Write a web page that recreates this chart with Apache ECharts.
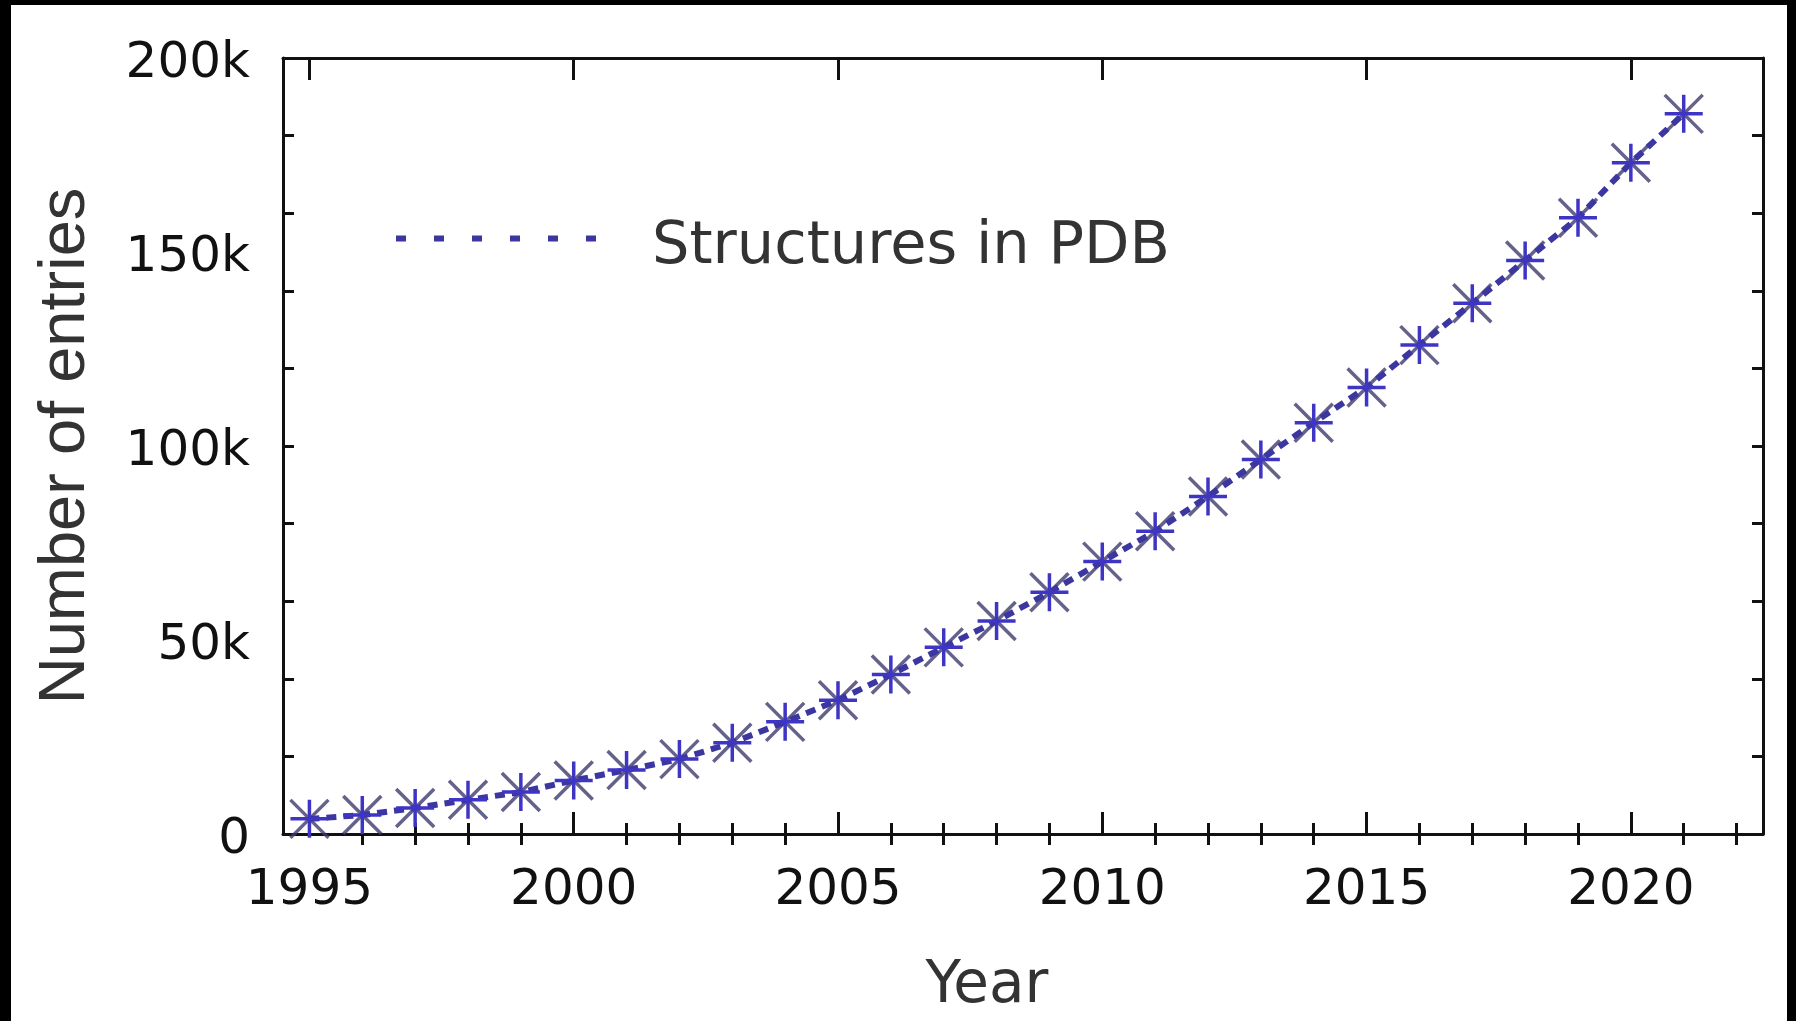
<!DOCTYPE html>
<html>
<head>
<meta charset="utf-8">
<script src="https://cdn.jsdelivr.net/npm/echarts@6/dist/echarts.min.js"></script>
<style>
  html, body { margin: 0; padding: 0; background: #ffffff; }
  #wrap { position: relative; width: 1796px; height: 1021px; overflow: hidden; background: #fff; }
  #chart { position: absolute; left: 0; top: 0; width: 1796px; height: 1021px; }
  .bar { position: absolute; background: #000; }
</style>
</head>
<body>
<div id="wrap">
  <div id="chart"></div>
  <div class="bar" style="left:0;top:0;width:1796px;height:5px"></div>
  <div class="bar" style="left:0;top:0;width:11px;height:1021px"></div>
  <div class="bar" style="right:0;top:0;width:9px;height:1021px"></div>
</div>
<script>
// ---- data ----
const years = [1995, 1996, 1997, 1998, 1999, 2000, 2001, 2002, 2003, 2004, 2005, 2006, 2007,
               2008, 2009, 2010, 2011, 2012, 2013, 2014, 2015, 2016, 2017, 2018, 2019, 2020, 2021];
const entries = [3900, 4900, 6700, 8800, 10800, 13800, 16500, 19300, 23500, 28900, 34500, 41100, 48100,
                 54900, 62300, 70200, 78000, 87000, 96500, 106000, 115100, 126000, 136800, 147800, 158800, 173000, 185600];
const seriesName = 'Structures in PDB';
const xMajorTicks = [1995, 2000, 2005, 2010, 2015, 2020];
const xMinorTicks = [1996, 1997, 1998, 1999, 2001, 2002, 2003, 2004, 2006, 2007, 2008, 2009,
                     2011, 2012, 2013, 2014, 2016, 2017, 2018, 2019, 2021, 2022];
const yLabelValues = [0, 50000, 100000, 150000, 200000];
const yTickValues = [20000, 40000, 60000, 80000, 100000, 120000, 140000, 160000, 180000];
const xTitle = 'Year';
const yTitle = 'Number of entries';

const points = years.map((y, i) => [y, entries[i]]);

const FONT = '"DejaVu Sans", sans-serif';
const FONT_Y = '"Liberation Sans", Arial, sans-serif';
const AXIS_COLOR = '#111';
const LINE_COLOR = '#3b36a0';

function xAxisBase(pos) {
  return {
    type: 'value', position: pos, min: 1994.5, max: 2022.5,
    axisLine: { show: false }, splitLine: { show: false },
    axisLabel: { show: false }, axisTick: { show: false }
  };
}
const xAxes = [
  Object.assign(xAxisBase('bottom'), {
    axisLine: { show: true, onZero: false, lineStyle: { color: AXIS_COLOR, width: 3 } },
    axisTick: { show: true, inside: true, length: 22, lineStyle: { color: AXIS_COLOR, width: 3 }, customValues: xMajorTicks },
    axisLabel: { show: true, customValues: xMajorTicks, margin: 32, color: '#111', fontSize: 50, fontFamily: FONT,
                 formatter: v => String(v) },
    name: xTitle, nameLocation: 'middle', nameGap: 124,
    nameTextStyle: { fontSize: 58, fontFamily: FONT, color: '#333', padding: [0, 72, 0, 0] }
  }),
  Object.assign(xAxisBase('bottom'), {
    axisTick: { show: true, inside: true, length: 11, lineStyle: { color: AXIS_COLOR, width: 3 }, customValues: xMinorTicks }
  }),
  Object.assign(xAxisBase('top'), {
    axisLine: { show: true, onZero: false, lineStyle: { color: AXIS_COLOR, width: 3 } },
    axisTick: { show: true, inside: true, length: 22, lineStyle: { color: AXIS_COLOR, width: 3 }, customValues: xMajorTicks }
  }),
  Object.assign(xAxisBase('top'), {
    axisTick: { show: true, inside: true, length: 11, lineStyle: { color: AXIS_COLOR, width: 3 }, customValues: xMinorTicks }
  })
];

const yAxes = [
  {
    type: 'value', position: 'left', min: 0, max: 200000,
    axisLine: { show: true, onZero: false, lineStyle: { color: AXIS_COLOR, width: 3 } },
    splitLine: { show: false },
    axisTick: { show: true, inside: true, length: 11, lineStyle: { color: AXIS_COLOR, width: 3 }, customValues: yTickValues },
    axisLabel: {
      show: true, customValues: yLabelValues, margin: 33, color: '#111', fontSize: 50, fontFamily: FONT,
      formatter: v => '{a|' + (v === 0 ? '0' : (v / 1000) + 'k') + '}',
      rich: { a: { fontSize: 50, fontFamily: FONT, color: '#111', padding: [12, 0, 0, 0] } }
    },
    name: yTitle, nameLocation: 'middle', nameRotate: 90, nameGap: 184,
    nameTextStyle: { fontSize: 65, fontFamily: FONT_Y, color: '#333' }
  },
  {
    type: 'value', position: 'right', min: 0, max: 200000,
    axisLine: { show: true, onZero: false, lineStyle: { color: AXIS_COLOR, width: 3 } },
    splitLine: { show: false },
    axisTick: { show: true, inside: true, length: 11, lineStyle: { color: AXIS_COLOR, width: 3 }, customValues: yTickValues },
    axisLabel: { show: false }
  }
];

const chart = echarts.init(document.getElementById('chart'), null, { renderer: 'canvas' });
chart.setOption({
  animation: false,
  backgroundColor: '#ffffff',
  grid: { left: 283, top: 58, width: 1480, height: 779, containLabel: false, show: false },
  xAxis: xAxes,
  yAxis: yAxes,
  legend: {
    data: [seriesName],
    left: 388, top: 213,
    itemWidth: 210, itemHeight: 28, itemGap: 0,
    itemStyle: { opacity: 0 },
    lineStyle: { type: [10, 28], width: 6, color: LINE_COLOR, cap: 'butt' },
    formatter: '{a|{name}}',
    textStyle: {
      fontSize: 59, fontFamily: FONT, color: '#333',
      rich: { a: { fontSize: 59, fontFamily: FONT, color: '#333', padding: [18, 0, 0, 41] } }
    }
  },
  series: [
    {
      name: 'cross', type: 'scatter', xAxisIndex: 0, yAxisIndex: 0,
      data: points, z: 2, silent: true,
      symbol: 'path://M-1,-1L1,1M-1,1L1,-1', symbolSize: 38,
      itemStyle: { color: 'transparent', borderColor: '#3d3a6e', borderWidth: 3.5 }
    },
    {
      name: seriesName, type: 'line', xAxisIndex: 0, yAxisIndex: 0,
      data: points, z: 3,
      symbol: 'path://M0,-1L0,1M-1,0L1,0', symbolSize: 38, showAllSymbol: true,
      itemStyle: { color: 'transparent', borderColor: '#3f35c4', borderWidth: 3.5 },
      lineStyle: { type: [10, 7], width: 6, color: LINE_COLOR }
    }
  ]
});
</script>
</body>
</html>
